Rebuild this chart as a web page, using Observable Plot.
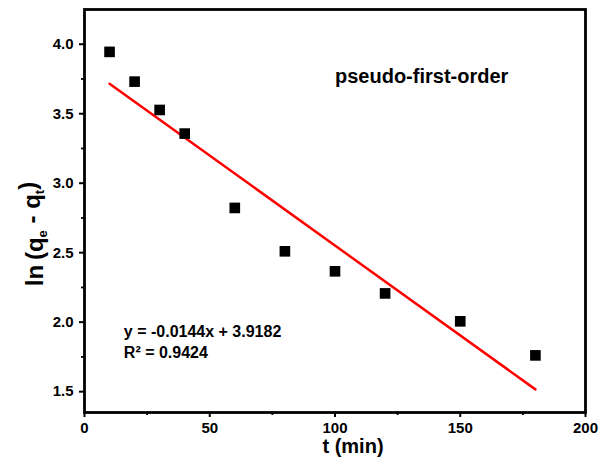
<!DOCTYPE html>
<html>
<head>
<meta charset="utf-8">
<script src="https://cdn.jsdelivr.net/npm/d3@7"></script>
<script src="https://cdn.jsdelivr.net/npm/@observablehq/plot@0.6"></script>
<style>
  html, body { margin: 0; padding: 0; background: #fff; }
  svg text { font-weight: bold; }
</style>
</head>
<body>
<div id="chart"></div>
<script>
// Data
const tMin = [10, 20, 30, 40, 60, 80, 100, 120, 150, 180];
const lnQ = [3.945, 3.731, 3.527, 3.357, 2.822, 2.51, 2.366, 2.207, 2.006, 1.761];

// Tick values
const xMajorTicks = [0, 50, 100, 150, 200];
const xMinorTicks = [25, 75, 125, 175];
const yMajorTicks = [1.5, 2.0, 2.5, 3.0, 3.5, 4.0];
const yMinorTicks = [1.75, 2.25, 2.75, 3.25, 3.75];

// Text
const titleText = "pseudo-first-order";
const eqText = "y = -0.0144x + 3.9182";
const r2Text = "R² = 0.9424";

const data = tMin.map((t, i) => ({t, v: lnQ[i]}));

const font = "'Liberation Sans', Arial, sans-serif";

const svg = Plot.plot({
  width: 601,
  height: 466,
  marginLeft: 84,
  marginRight: 16,
  marginTop: 9,
  marginBottom: 54,
  style: {fontFamily: font, fontSize: "15px", color: "#000", background: "#fff"},
  x: {domain: [0, 200]},
  y: {domain: [1.35, 4.25]},
  marks: [
    Plot.axisX({ticks: xMinorTicks, tickSize: 3, strokeWidth: 1.8, tickFormat: () => "", label: null}),
    Plot.axisX({ticks: xMajorTicks, tickSize: 5, tickPadding: 5, strokeWidth: 2, tickFormat: d => String(d), label: null}),
    Plot.axisY({ticks: yMinorTicks, tickSize: 3, strokeWidth: 1.8, tickFormat: () => "", label: null}),
    Plot.axisY({ticks: yMajorTicks, tickSize: 5, tickPadding: 6, strokeWidth: 2, tickFormat: d3.format(".1f"), label: null}),
    Plot.frame({stroke: "#000", strokeWidth: 2.8}),
    Plot.linearRegressionY(data, {x: "t", y: "v", stroke: "#ff0000", strokeWidth: 2.5, ci: 0}),
    Plot.dot(data, {x: "t", y: "v", symbol: "square", r: 6, fill: "#000", stroke: null}),
    Plot.text([titleText], {x: 100, y: 3.77, text: d => d, textAnchor: "start", fontSize: 20, fontWeight: "bold", fill: "#000"}),
    Plot.text([eqText], {x: 15.7, y: 1.927, text: d => d, textAnchor: "start", fontSize: 16, fontWeight: "bold", fill: "#000"}),
    Plot.text([r2Text], {x: 15.7, y: 1.776, text: d => d, textAnchor: "start", fontSize: 16, fontWeight: "bold", fill: "#000"})
  ]
});

document.getElementById("chart").appendChild(svg);

const s = d3.select(svg);
// x axis title
s.append("text")
  .attr("x", 353).attr("y", 453)
  .attr("text-anchor", "middle")
  .attr("font-family", font).attr("font-size", 20).attr("font-weight", "bold")
  .attr("fill", "#000")
  .text("t (min)");

// y axis title with subscripts
const yt = s.append("text")
  .attr("transform", "translate(43,234) rotate(-90)")
  .attr("text-anchor", "middle")
  .attr("font-family", font).attr("font-size", 24).attr("font-weight", "bold")
  .attr("fill", "#000");
yt.append("tspan").text("ln\u2009(q");
yt.append("tspan").attr("font-size", 13).attr("dy", "0.3em").text("e");
yt.append("tspan").attr("dy", "-0.3em").text(" - q");
yt.append("tspan").attr("font-size", 13).attr("dy", "0.3em").text("t");
yt.append("tspan").attr("dy", "-0.3em").text(")");
</script>
</body>
</html>
